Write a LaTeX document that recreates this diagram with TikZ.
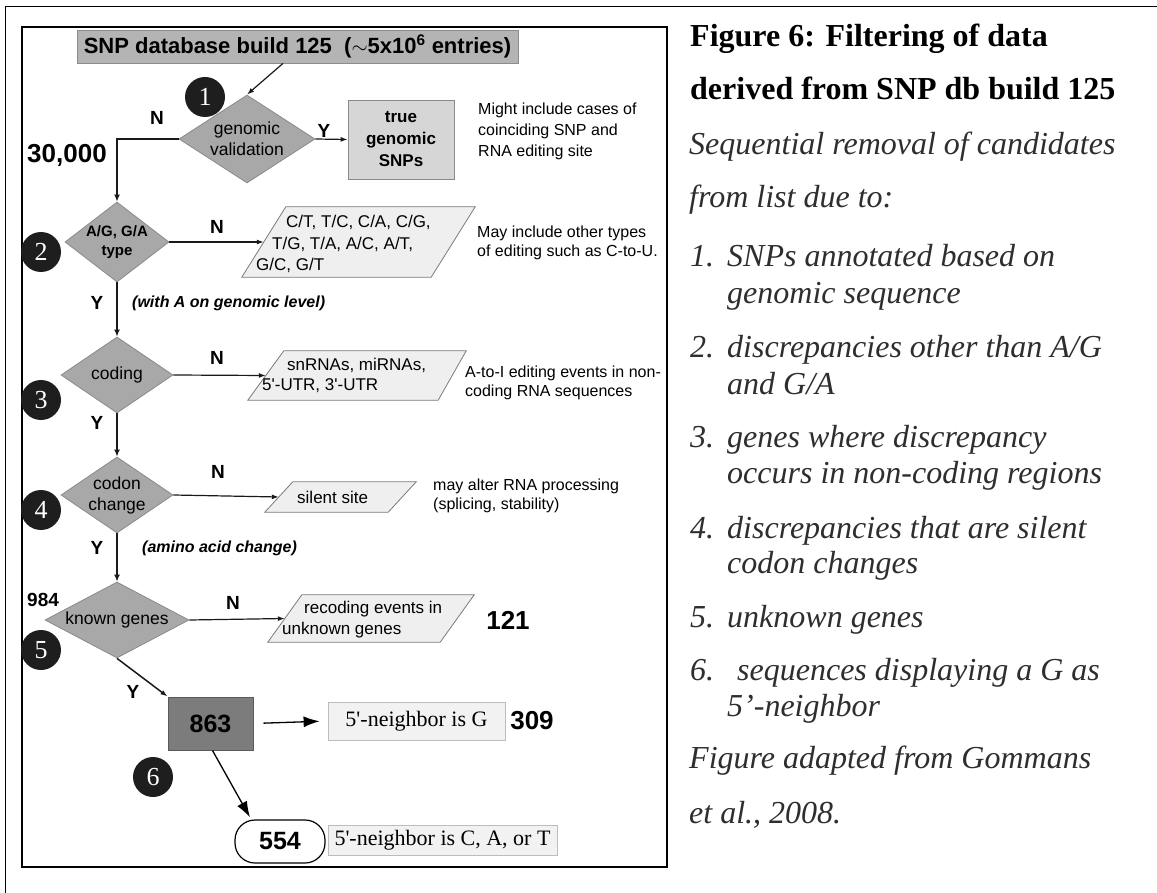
\documentclass[tikz,border=0pt]{standalone}
\usepackage{fontspec}
\setmainfont{Liberation Serif}
\setsansfont{Liberation Sans}
\usetikzlibrary{shapes.geometric,arrows.meta}
\definecolor{topfill}{HTML}{B4B4B4}
\definecolor{topedge}{HTML}{8C8C8C}
\definecolor{diafill}{HTML}{A8A8A8}
\definecolor{diaedge}{HTML}{8A8A8A}
\definecolor{tgfill}{HTML}{D6D6D6}
\definecolor{tgedge}{HTML}{8A8A8A}
\definecolor{pgfill}{HTML}{EFEFEF}
\definecolor{pgedge}{HTML}{7A7A7A}
\definecolor{bfill}{HTML}{7C7C7C}
\definecolor{bedge}{HTML}{5A5A5A}
\definecolor{nbfill}{HTML}{F2F2F2}
\definecolor{nbedge}{HTML}{BDBDBD}
\definecolor{numfill}{HTML}{1E1E1E}
\definecolor{capgray}{HTML}{2E2E2E}
\definecolor{linecol}{HTML}{1A1A1A}
\begin{document}
\begin{tikzpicture}[x=1pt,y=-1pt,
  dia/.style={diamond, draw=diaedge, fill=diafill, line width=0.8pt, inner sep=0pt},
  dtext/.style={font=\sffamily\fontsize{17.5}{21}\selectfont, align=center, inner sep=0pt},
  numc/.style={circle, fill=numfill, minimum size=40pt, inner sep=0pt, text=white, font=\rmfamily\fontsize{26}{26}\selectfont},
  yn/.style={font=\sffamily\bfseries\fontsize{19}{19}\selectfont, inner sep=0pt},
  note/.style={font=\sffamily\fontsize{16}{19}\selectfont, align=left, anchor=west, inner sep=0pt},
  pbox/.style={rectangle, inner sep=0pt, draw=none},
  pgram/.style={draw=pgedge, fill=pgfill, line width=0.8pt},
  ptext/.style={font=\sffamily\fontsize{17}{19}\selectfont, anchor=west, inner sep=0pt},
  flow/.style={draw=linecol, line width=2.2pt, -{Latex[length=7pt,width=6pt]}},
  harr/.style={draw=linecol, line width=1.2pt, -{Latex[length=7pt,width=5pt]}},
  bigarr/.style={draw=black, line width=1.3pt, -{Latex[length=16pt,width=11pt]}},
  bignum/.style={font=\sffamily\bfseries\fontsize{26}{26}\selectfont, inner sep=0pt},
  itl/.style={font=\sffamily\bfseries\itshape\fontsize{16}{16}\selectfont, anchor=west, inner sep=0pt},
  capb/.style={font=\rmfamily\bfseries\fontsize{32}{32}\selectfont, anchor=base west, inner sep=0pt},
  capi/.style={font=\rmfamily\itshape\fontsize{32}{32}\selectfont, anchor=base west, inner sep=0pt, text=capgray},
  nbox/.style={draw=nbedge, fill=nbfill, line width=0.8pt, font=\rmfamily\fontsize{22}{22}\selectfont, inner sep=0pt}
]
\useasboundingbox (0,0) rectangle (1157,893);
\fill[white] (0,0) rectangle (1157,893);
% frames
\draw[line width=1pt] (5,893) -- (5,7) -- (1157,7);
\draw[line width=2.2pt] (22,27) rectangle (667,867);

% top box
\node[draw=topedge, fill=topfill, line width=0.8pt, minimum width=441pt, minimum height=33pt, inner sep=0pt,
  font=\sffamily\bfseries\fontsize{22}{22}\selectfont] (top) at (297.5,46.5)
  {SNP database build 125\ \ ($\sim$5x10\textsuperscript{6} entries)};

% diamonds
\node[dia, minimum width=136pt, minimum height=88pt, label={[dtext]center:{genomic\\validation}}] (d1) at (247,139) {};
\node[dia, minimum width=104pt, minimum height=80pt, label={[dtext, font=\sffamily\bfseries\fontsize{15}{19}\selectfont]center:{A/G, G/A\\type}}] (d2) at (117,242) {};
\node[dia, minimum width=112pt, minimum height=76pt, label={[dtext]center:{coding}}] (d3) at (117,375) {};
\node[dia, minimum width=112pt, minimum height=76pt, label={[dtext]center:{codon\\change}}] (d4) at (117,495) {};
\node[dia, minimum width=144pt, minimum height=76pt, label={[dtext]center:{known genes}}] (d5) at (117,620) {};

% true genomic SNPs
\node[draw=tgedge, fill=tgfill, line width=0.8pt, minimum width=106pt, minimum height=79pt, inner sep=0pt, align=center,
  font=\sffamily\bfseries\fontsize{17}{22}\selectfont] (tg) at (401,139.5) {true\\genomic\\SNPs};

% notes
\node[note, font=\sffamily\fontsize{16}{21}\selectfont] (n1) at (478,131) {Might include cases of\\coinciding SNP and\\RNA editing site};
\node[note] (n2) at (477,243) {May include other types\\of editing such as C-to-U.};
\node[note] (n3) at (465,383) {A-to-I editing events in non-\\coding RNA sequences};
\node[note] (n4) at (433,496) {may alter RNA processing\\(splicing, stability)};

% parallelograms
\node[pbox, minimum width=189pt, minimum height=70pt] (p2) at (358.5,242) {};
\draw[pgram] ([xshift=22pt]p2.north west) -- ([xshift=22pt]p2.north east) -- ([xshift=-22pt]p2.south east) -- ([xshift=-22pt]p2.south west) -- cycle;
\node[ptext] (p2a) at (286,222) {C/T, T/C, C/A, C/G,};
\node[ptext] (p2b) at (272,244) {T/G, T/A, A/C, A/T,};
\node[ptext] (p2c) at (256,265) {G/C, G/T};

\node[pbox, minimum width=186pt, minimum height=49pt] (p3) at (359,375.5) {};
\draw[pgram] ([xshift=18pt]p3.north west) -- ([xshift=14pt]p3.north east) -- ([xshift=-14pt]p3.south east) -- ([xshift=-18pt]p3.south west) -- cycle;
\node[ptext] (p3a) at (287,365) {snRNAs, miRNAs,};
\node[ptext] (p3b) at (262,386) {5\textquotesingle-UTR, 3\textquotesingle-UTR};

\node[pbox, minimum width=123pt, minimum height=30pt] (p4) at (340.5,497) {};
\draw[pgram] ([xshift=14pt]p4.north west) -- ([xshift=14pt]p4.north east) -- ([xshift=-14pt]p4.south east) -- ([xshift=-14pt]p4.south west) -- cycle;
\node[ptext] (p4a) at (297,497) {silent site};

\node[pbox, minimum width=172pt, minimum height=47pt] (p5) at (371,618.5) {};
\draw[pgram] ([xshift=17pt]p5.north west) -- ([xshift=17pt]p5.north east) -- ([xshift=-17pt]p5.south east) -- ([xshift=-17pt]p5.south west) -- cycle;
\node[ptext] (p5a) at (304,609) {recoding events in};
\node[ptext] (p5b) at (282,630) {unknown genes};

% Y / N labels
\node[yn] (N1) at (157,118) {N};
\node[yn] (Y1) at (324,131) {Y};
\node[yn] (N2) at (217,227) {N};
\node[yn] (Y2) at (97,303) {Y};
\node[yn] (N3) at (217,358) {N};
\node[yn] (Y3) at (97,423) {Y};
\node[yn] (N4) at (218,472) {N};
\node[yn] (Y4) at (97,548) {Y};
\node[yn] (N5) at (233,603) {N};
\node[yn] (Y5) at (133,692) {Y};
\node[itl] (wA) at (132,303) {(with A on genomic level)};
\node[itl] (aa) at (142,548) {(amino acid change)};

% counts
\node[bignum] (n30) at (67,155) {30,000};
\node[font=\sffamily\bfseries\fontsize{19}{19}\selectfont, anchor=west, inner sep=0pt] (n984) at (27,600) {984};
\node[bignum] (n121) at (508,620) {121};
\node[bignum] (n309) at (532,721) {309};

% bottom boxes
\node[draw=bedge, fill=bfill, line width=1pt, minimum width=85pt, minimum height=53pt, inner sep=0pt,
  font=\sffamily\bfseries\fontsize{25}{25}\selectfont] (b863) at (210.5,723.5) {863};
\node[nbox, minimum width=177pt, minimum height=38pt] (bG) at (416.5,721) {5\textquotesingle-neighbor is G};
\node[draw=black, fill=white, line width=1.2pt, rounded corners=20pt, minimum width=90pt, minimum height=43pt, inner sep=0pt,
  font=\sffamily\bfseries\fontsize{25}{25}\selectfont] (b554) at (280,841.5) {554};
\node[nbox, minimum width=229pt, minimum height=30pt] (bCAT) at (442.5,840) {5\textquotesingle-neighbor is C, A, or T};

% number circles
\node[numc] (c1) at (205,97) {1};
\node[numc] (c2) at (41,252) {2};
\node[numc] (c3) at (41,400) {3};
\node[numc] (c4) at (41,510) {4};
\node[numc] (c5) at (41,650) {5};
\node[numc] (c6) at (153,777) {6};

% connectors
\draw[harr] ([xshift=-14.5pt]top.south) -- (d1.north);
\draw[harr] (d1.east) -- (tg.west);
\draw[flow] (d1.west) -| (d2.north);
\draw[harr] (d2.east) -- (p2.west);
\draw[flow] (d2.south) -- (d3.north);
\draw[harr] (d3.east) -- (p3.west);
\draw[flow] (d3.south) -- (d4.north);
\draw[harr] (d4.east) -- (p4.west);
\draw[flow] (d4.south) -- (d5.north);
\draw[harr] (d5.east) -- (p5.west);
\draw[harr, line width=1.5pt] (d5.south) -- (b863.north west);
\draw[bigarr, shorten <=10pt, shorten >=8pt] (b863.east) -- (bG.west);
\draw[bigarr] ([xshift=2pt]b863.south) -- ([xshift=-30pt,yshift=2pt]b554.north);

% caption
\node[capb] (t1) at (690,47) {Figure 6: Filtering of data};
\node[capb] (t2) at (690,100) {derived from SNP db build 125};
\node[capi] (t3) at (689,155) {Sequential removal of candidates};
\node[capi] (t4) at (689,208) {from list due to:};
\node[capi] (i1) at (690,267) {1.};
\node[capi] (i1a) at (727,267) {SNPs annotated based on};
\node[capi] (i1b) at (727,304) {genomic sequence};
\node[capi] (i2) at (690,358) {2.};
\node[capi] (i2a) at (727,358) {discrepancies other than A/G};
\node[capi] (i2b) at (727,394) {and G/A};
\node[capi] (i3) at (690,447) {3.};
\node[capi] (i3a) at (727,447) {genes where discrepancy};
\node[capi] (i3b) at (727,483) {occurs in non-coding regions};
\node[capi] (i4) at (690,538) {4.};
\node[capi] (i4a) at (727,538) {discrepancies that are silent};
\node[capi] (i4b) at (727,573) {codon changes};
\node[capi] (i5) at (690,627) {5.};
\node[capi] (i5a) at (727,627) {unknown genes};
\node[capi] (i6) at (690,680) {6.};
\node[capi] (i6a) at (737,680) {sequences displaying a G as};
\node[capi] (i6b) at (727,716) {5’-neighbor};
\node[capi] (t5) at (689,768) {Figure adapted from Gommans};
\node[capi] (t6) at (689,823) {et al., 2008.};
\end{tikzpicture}
\end{document}
